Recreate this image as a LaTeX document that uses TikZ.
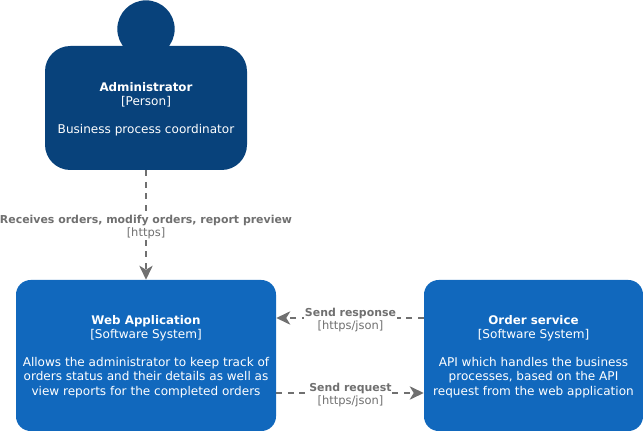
\documentclass[tikz,border=0pt]{standalone}
\usepackage{fontspec}
\setmainfont{DejaVu Sans}
\usepackage{xcolor}
\usetikzlibrary{arrows.meta,positioning}
\definecolor{persondark}{HTML}{08427B}
\definecolor{systemblue}{HTML}{1168BD}
\definecolor{relgray}{HTML}{707070}
\newcommand{\boxtitle}[1]{{\fontsize{8.9}{10.6}\selectfont\bfseries #1}}
\newcommand{\reltitle}[1]{{\fontsize{8.2}{10.2}\selectfont\bfseries #1}}
\tikzset{
	boxtext/.style={text=white, align=center, font=\fontsize{9.05}{10.6}\selectfont, inner sep=0pt},
	personbox/.style={fill=persondark, rounded corners=19pt, inner sep=0pt, minimum width=151.5pt, minimum height=93pt},
	systembox/.style={fill=systemblue, rounded corners=11pt, inner sep=0pt, minimum height=113.25pt},
	rel/.style={draw=relgray, line width=1.5pt, dash pattern=on 4.5pt off 4.2pt, -{Stealth[length=10.5pt,width=10pt,inset=3pt]}},
	rellabel/.style={fill=white, text=relgray, align=center, font=\fontsize{8.6}{10.2}\selectfont, inner sep=0.5pt}
}
\begin{document}
\begin{tikzpicture}[x=0.75pt,y=-0.75pt]
	\useasboundingbox (0,0) rectangle (643,431);
	\node[circle, fill=persondark, minimum size=43pt, inner sep=0pt] (adminhead) at (146,29) {};
	\node[personbox] (admin) at (146,108) {};
	\node[systembox, minimum width=195pt] (web) at (146,355.5) {};
	\node[systembox, minimum width=164.25pt] (order) at (533.5,355.5) {};
	\node[boxtext] (admintext) at (146,109.5) {\boxtitle{Administrator}\\{}[Person]\\[10.6pt]Business process coordinator};
	\node[boxtext] (webtext) at (146,356.5) {\boxtitle{Web Application}\\{}[Software System]\\[10.6pt]Allows the administrator to keep track of\\orders status and their details as well as\\view reports for the completed orders};
	\node[boxtext] (ordertext) at (533.5,356.5) {\boxtitle{Order service}\\{}[Software System]\\[10.6pt]API which handles the business\\processes, based on the API\\request from the web application};
	\draw[rel] (admin) -- (web);
	\draw[rel] (order.west |- 0,318) -- (web.east |- 0,318);
	\draw[rel] (web.east |- 0,393) -- (order.west |- 0,393);
	\node[rellabel] (adminlabel) at (146,227) {\reltitle{Receives orders, modify orders, report preview}\\{}[https]};
	\node[rellabel] (resplabel) at (350.5,320) {\reltitle{Send response}\\{}[https/json]};
	\node[rellabel] (reqlabel) at (350.5,395) {\reltitle{Send request}\\{}[https/json]};
\end{tikzpicture}
\end{document}
